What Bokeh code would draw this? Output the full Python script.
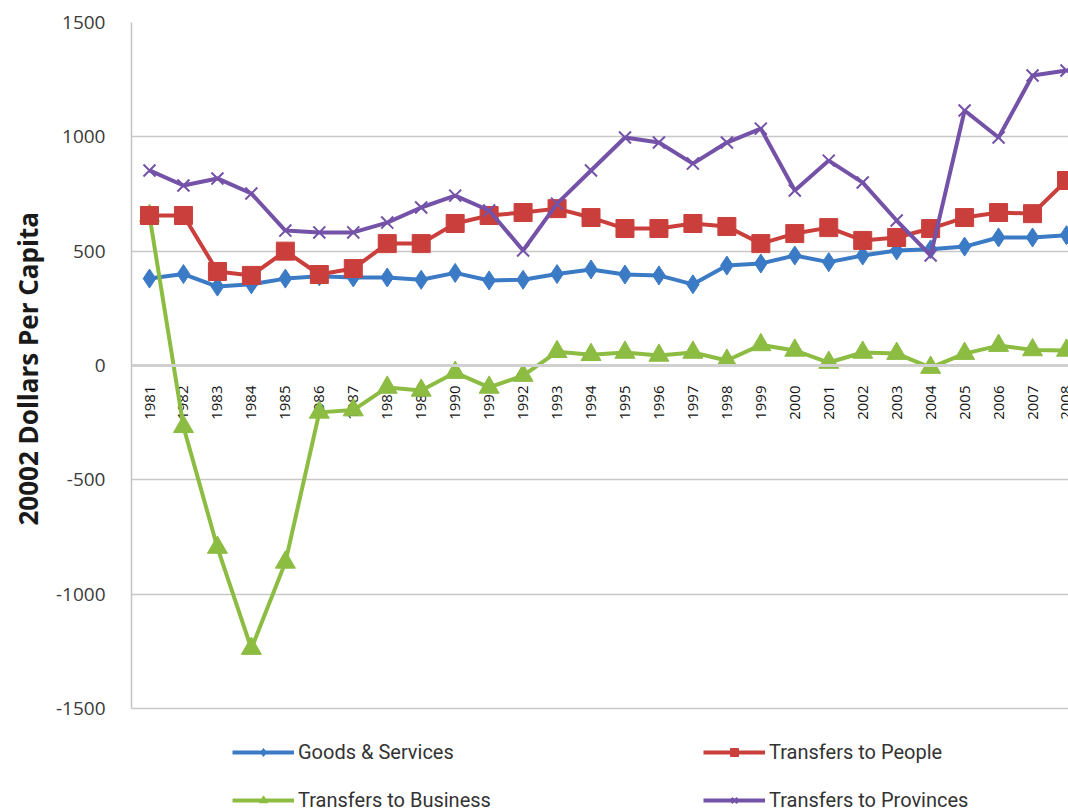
import math
from bokeh.plotting import figure
from bokeh.models import Range1d, Span, Legend, LegendItem, FixedTicker, ColumnDataSource, Title
from bokeh.core.properties import value
from bokeh.embed import file_html
from bokeh.resources import INLINE

years = [1981, 1982, 1983, 1984, 1985, 1986, 1987, 1988, 1989, 1990,
         1991, 1992, 1993, 1994, 1995, 1996, 1997, 1998, 1999, 2000,
         2001, 2002, 2003, 2004, 2005, 2006, 2007, 2008]
year_labels = [str(y) for y in years]

goods_services = [380, 400, 345, 355, 380, 390, 385, 385, 375, 405,
                  372, 375, 400, 420, 398, 394, 355, 437, 446, 481,
                  452, 481, 503, 508, 520, 560, 560, 570]
transfers_people = [656, 656, 411, 394, 500, 398, 424, 533, 533, 621,
                    656, 669, 686, 647, 599, 599, 621, 608, 533, 577,
                    603, 547, 560, 599, 647, 669, 664, 809]
transfers_business = [655, -268, -796, -1238, -861, -205, -195, -96, -109, -31,
                      -96, -44, 60, 47, 57, 44, 57, 22, 90, 66,
                      13, 57, 52, -9, 52, 87, 68, 66]
transfers_provinces = [853, 787, 818, 752, 590, 582, 582, 625, 691, 743,
                       678, 503, 708, 853, 997, 975, 883, 975, 1036, 765,
                       896, 800, 634, 481, 1115, 997, 1268, 1290]

y_ticks = [-1500, -1000, -500, 0, 500, 1000, 1500]
y_title = "20002 Dollars Per Capita"

# (name, values, colour, marker, size) in legend order (column by column)
series = [
    ("Goods & Services", goods_services, "#3b7bc6", "diamond", 19),
    ("Transfers to Business", transfers_business, "#8cbc42", "triangle", 20),
    ("Transfers to People", transfers_people, "#ca3f3c", "square", 18),
    ("Transfers to Provinces", transfers_provinces, "#7452a8", "x", 17),
]

# value axis spans 686 px (-1500..1500); the frame continues 104 px below
# so that the legend sits inside the frame
y_lo = -1500 - 3000 * 104 / 686

p = figure(width=1068, height=812, output_backend="svg", toolbar_location=None,
           x_range=Range1d(1980.47, 2008.059), y_range=Range1d(y_lo, 1500),
           x_axis_location=None,
           min_border_left=131, min_border_right=0, min_border_top=22, min_border_bottom=0)

p.background_fill_color = "white"
p.border_fill_color = "white"
p.outline_line_color = None

p.xgrid.visible = False
p.ygrid.grid_line_color = "#c8c8c8"
p.ygrid.grid_line_width = 1.5

ax = p.yaxis[0]
ax.ticker = FixedTicker(ticks=y_ticks)
ax.bounds = (-1500, 1500)
ax.major_label_overrides = {t: str(t) for t in y_ticks}
ax.axis_line_color = "#c4c4c4"
ax.axis_line_width = 1.5
ax.major_tick_line_color = None
ax.minor_tick_line_color = None
ax.major_tick_out = 0
ax.major_tick_in = 0
ax.major_label_standoff = 26
ax.major_label_text_font = "Open Sans"
ax.major_label_text_font_size = "19px"
ax.major_label_text_color = "#3a3a3a"

ttl = Title(text=y_title, align="left", offset=287, standoff=13,
            text_font="Open Sans", text_font_style="bold", text_font_size="26px",
            text_color="#1a1a1a")
p.add_layout(ttl, "left")

p.add_layout(Span(location=0, dimension="width", line_color="#d0d0d0", line_width=3))

src = ColumnDataSource(dict(x=years, y=[0] * len(years), t=year_labels))
p.text(x="x", y="y", text="t", source=src, angle=math.pi / 2,
       text_align="right", text_baseline="middle", y_offset=20,
       text_font=value("Open Sans"), text_font_size="15px", text_color="#151515")

items = []
for name, vals, color, marker, size in series:
    r1 = p.line(years, vals, line_color=color, line_width=4)
    if marker == "x":
        r2 = p.scatter(years, vals, marker="x", size=size, line_color=color, line_width=2)
    else:
        r2 = p.scatter(years, vals, marker=marker, size=size, fill_color=color, line_color=color)
    items.append(LegendItem(label=name, renderers=[r1, r2]))

legend = Legend(items=items, ncols=2, location=(101, 0),
                glyph_width=62, glyph_height=20, label_height=20, label_width=381,
                label_standoff=4, spacing=24, padding=0, margin=0,
                border_line_color=None, background_fill_alpha=0,
                label_text_font="Roboto", label_text_font_size="20px",
                label_text_color="#333333")
p.add_layout(legend, "center")

open("out.html", "w").write(file_html(p, INLINE))
